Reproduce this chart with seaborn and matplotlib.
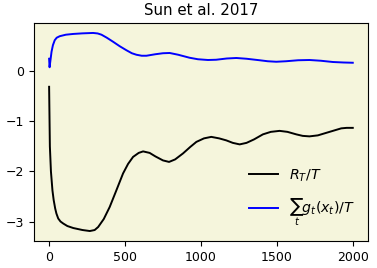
import matplotlib
matplotlib.use("Agg")
import matplotlib.pyplot as plt
import seaborn as sns
import pandas as pd

t_regret = [0, 5, 12, 22, 30, 40, 48, 60, 75, 93, 120, 159, 220, 268, 300, 323, 360, 399, 440,
            487, 520, 553, 590, 619, 662, 700, 750, 790, 830, 882, 930, 970, 1020, 1068, 1120,
            1167, 1210, 1255, 1300, 1350, 1408, 1460, 1518, 1570, 1628, 1670, 1715, 1770, 1825,
            1880, 1924, 1960, 2000]
regret = [-0.31, -1.50, -2.00, -2.38, -2.57, -2.74, -2.84, -2.94, -3.00, -3.04, -3.09, -3.13,
          -3.17, -3.19, -3.17, -3.11, -2.95, -2.71, -2.40, -2.04, -1.85, -1.71, -1.63, -1.60,
          -1.63, -1.70, -1.78, -1.81, -1.76, -1.64, -1.51, -1.41, -1.34, -1.31, -1.34, -1.38,
          -1.43, -1.46, -1.43, -1.36, -1.26, -1.21, -1.19, -1.21, -1.26, -1.29, -1.30, -1.28,
          -1.23, -1.18, -1.14, -1.13, -1.13]

t_cons = [0, 3, 8, 16, 25, 37, 50, 70, 110, 158, 220, 290, 320, 345, 380, 421, 465, 509, 545,
          575, 610, 641, 700, 750, 794, 850, 925, 980, 1046, 1100, 1170, 1233, 1300, 1386,
          1440, 1496, 1560, 1640, 1715, 1790, 1869, 1940, 2000]
cons = [0.25, 0.08, 0.20, 0.39, 0.52, 0.62, 0.67, 0.70, 0.73, 0.745, 0.757, 0.765, 0.755, 0.73,
        0.67, 0.59, 0.50, 0.42, 0.36, 0.33, 0.31, 0.31, 0.34, 0.36, 0.365, 0.33, 0.27, 0.24,
        0.225, 0.23, 0.255, 0.265, 0.25, 0.22, 0.20, 0.19, 0.20, 0.22, 0.225, 0.21, 0.185,
        0.175, 0.17]

labels = [r'$R_T/T$', r'$\sum_t g_t(x_t)/T$']
title = "Sun et al. 2017"

plt.rcParams['font.size'] = 9

df = pd.concat([
    pd.DataFrame({"t": t_regret, "v": regret, "s": labels[0]}),
    pd.DataFrame({"t": t_cons, "v": cons, "s": labels[1]}),
])

fig = plt.figure(figsize=(3.77, 2.68), dpi=100)
ax = fig.add_axes([0.090, 0.101, 0.886, 0.813])
ax.set_facecolor('#f5f5dc')
sns.lineplot(data=df, x="t", y="v", hue="s", palette=["black", "blue"], ax=ax,
             linewidth=1.4, sort=False, estimator=None)
ax.set_xlabel("")
ax.set_ylabel("")
ax.set_title(title)
ax.set_xticks([0, 500, 1000, 1500, 2000])
ax.set_yticks([-3, -2, -1, 0])
ax.legend(loc="lower right", frameon=False, fontsize=10.2, labelspacing=0.9)
fig.savefig("out.png", dpi=100)
